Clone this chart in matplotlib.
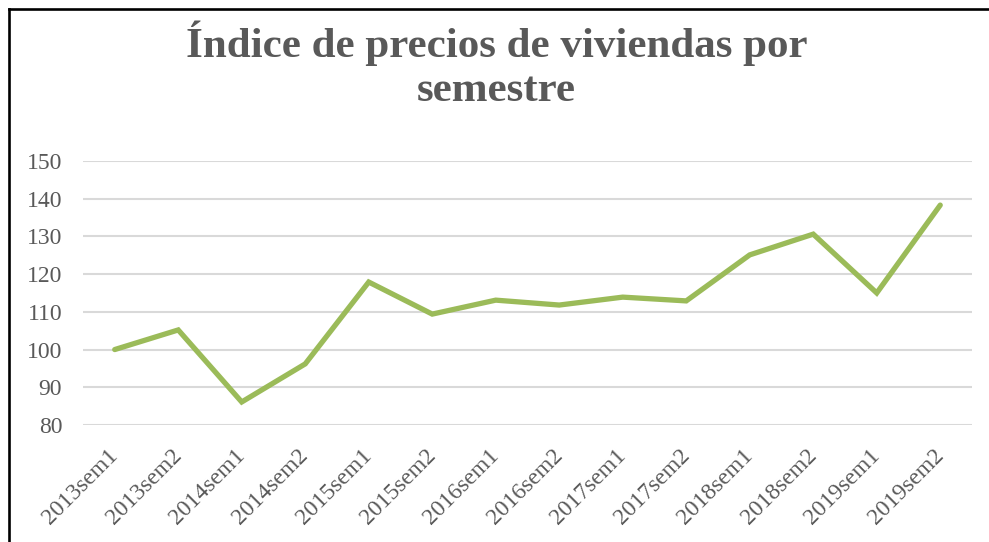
import matplotlib.pyplot as plt
from matplotlib.lines import Line2D

categories = ["2013sem1", "2013sem2", "2014sem1", "2014sem2", "2015sem1",
              "2015sem2", "2016sem1", "2016sem2", "2017sem1", "2017sem2",
              "2018sem1", "2018sem2", "2019sem1", "2019sem2"]
values = [100.0, 105.2, 86.1, 96.2, 117.9, 109.4, 113.1,
          111.8, 113.9, 112.9, 125.1, 130.6, 115.0, 138.3]
yticks = [80, 90, 100, 110, 120, 130, 140, 150]
title = "Índice de precios de viviendas por\nsemestre"

plt.rcParams['font.family'] = ['Liberation Serif', 'DejaVu Serif']
grey = "#595959"

fig = plt.figure(figsize=(9.89, 5.42), dpi=100)
ax = fig.add_axes([0.0839, 0.2159, 0.9828 - 0.0839, 0.7030 - 0.2159])

x = list(range(len(categories)))
ax.plot(x, values, color="#9BBB59", lw=3.8, solid_capstyle="round",
        solid_joinstyle="miter", zorder=3)

ax.set_xlim(-0.5, len(categories) - 0.5)
ax.set_ylim(80, 150)
ax.set_yticks(yticks)
ax.set_yticklabels([str(v) for v in yticks])
ax.set_xticks(x)
ax.set_xticklabels(categories, rotation=45, ha="right", va="center",
                   rotation_mode="anchor")
ax.tick_params(axis="y", length=0, pad=15, labelsize=17, labelcolor=grey)
ax.tick_params(axis="x", length=0, pad=20, labelsize=17, labelcolor=grey)

ax.grid(axis="y", color="#D9D9D9", lw=1.5)
ax.set_axisbelow(True)
for s in ax.spines.values():
    s.set_visible(False)

fig.text(0.502, 0.962, title, ha="center", va="top", fontsize=31,
         fontweight="bold", color=grey, linespacing=1.2)

# chart frame (only left and top edges are visible)
y_top = 1 - 9 / 542
x_left = 8.5 / 989
fig.add_artist(Line2D([x_left, x_left], [-0.05, y_top], color="black", lw=1.9,
                      transform=fig.transFigure, solid_capstyle="projecting"))
fig.add_artist(Line2D([x_left, 1.05], [y_top, y_top], color="black", lw=1.9,
                      transform=fig.transFigure, solid_capstyle="projecting"))

fig.savefig("out.png", dpi=100)
